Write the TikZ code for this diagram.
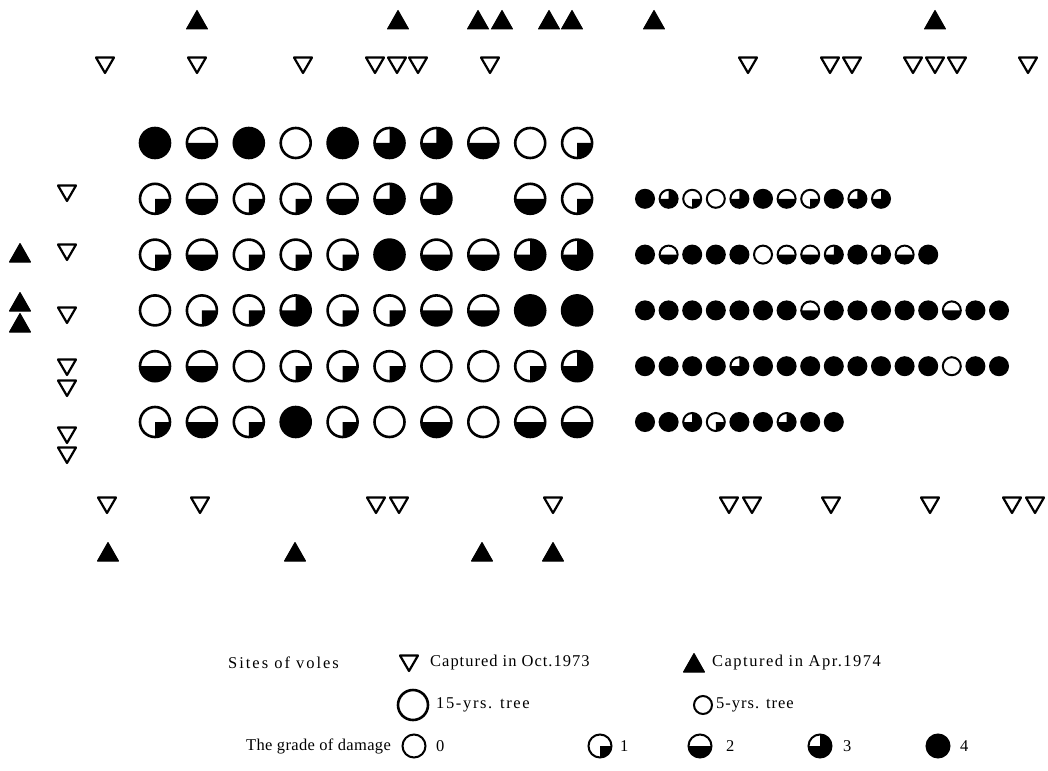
\documentclass[tikz,border=0pt]{standalone}
\usepackage{fontspec}
\setmainfont{Liberation Serif}[LetterSpace=6]
\newcommand\dmg[4]{%
  \begin{scope}[shift={(#1,#2)}]
    \ifcase#4\relax
    \or \fill (0,0) -- (#3,0) arc[start angle=0,end angle=-90,radius=#3] -- cycle;
    \or \fill (#3,0) arc[start angle=0,end angle=-180,radius=#3] -- cycle;
    \or \fill (0,0) -- (0,#3) arc[start angle=90,end angle=-180,radius=#3] -- cycle;
    \or \fill (0,0) circle[radius=#3];
    \fi
    \draw (0,0) circle[radius=#3];
  \end{scope}}
\newcommand\tdown[2]{\draw[opentri] (#1-9,#2+7.5) -- (#1+9,#2+7.5) -- (#1,#2-8) -- cycle;}
\newcommand\tup[2]{\filldraw[filltri] (#1-10.5,#2-9) -- (#1+10.5,#2-9) -- (#1,#2+9.5) -- cycle;}
\begin{document}
\begin{tikzpicture}[x=1pt,y=1pt,
  opentri/.style={line width=2.2pt,line join=round},
  filltri/.style={line width=1pt,line join=round},
  bigc/.style={line width=2.6pt},
  smallc/.style={line width=2pt},
  lbl/.style={anchor=west,inner sep=0pt,font=\fontsize{16.5}{19}\selectfont}]
\useasboundingbox (0,0) rectangle (1048,-770);
% big 15-year trees
\begin{scope}[bigc]
\foreach \row [count=\r from 0] in {{4,2,4,0,4,3,3,2,0,1},{1,2,1,1,2,3,3,9,2,1},{1,2,1,1,1,4,2,2,3,3},{0,1,1,3,1,1,2,2,4,4},{2,2,0,1,1,1,0,0,1,3},{1,2,1,4,1,0,2,0,2,2}}{
  \foreach \g [count=\c from 0] in \row {
    \pgfmathsetmacro\xx{155+46.9*\c}
    \pgfmathsetmacro\yy{-(143+55.8*\r)}
    \ifnum\g<5 \dmg{\xx}{\yy}{15}{\g}\fi
  }}
\end{scope}
% small 5-year trees
\begin{scope}[smallc]
\foreach \row [count=\r] in {{4,3,1,0,3,4,2,1,4,3,3},{4,2,4,4,4,0,2,2,3,4,3,2,4},{4,4,4,4,4,4,4,2,4,4,4,4,4,2,4,4},{4,4,4,4,3,4,4,4,4,4,4,4,4,0,4,4},{4,4,3,1,4,4,3,4,4}}{
  \foreach \g [count=\c from 0] in \row {
    \pgfmathsetmacro\xx{645+23.6*\c}
    \pgfmathsetmacro\yy{-(143+55.8*\r)}
    \dmg{\xx}{\yy}{9}{\g}
  }}
\end{scope}
% triangles
\foreach \x in {197,398,478,502,549,572,654,935} {\tup{\x}{-20}}
\foreach \x in {105,197,303,375,397,418,490,748,830,852,913,935,957,1028} {\tdown{\x}{-65}}
\foreach \y in {193,252,315,367,388,435,455} {\tdown{67}{-\y}}
\foreach \y in {253,302,323} {\tup{20}{-\y}}
\foreach \x in {107,200,376,399,553,729,752,831,930,1012,1035} {\tdown{\x}{-505}}
\foreach \x in {108,295,482,553} {\tup{\x}{-552}}
% legend
\node[lbl,font=\fontsize{16.5}{19}\selectfont\addfontfeatures{LetterSpace=12}] (sites) at (228,-663) {Sites of voles};
\tdown{409}{-663}
\node[lbl] (oct) at (430,-663) {Captured in Oct.1973};
\tup{694}{-663}
\node[lbl,font=\fontsize{16.5}{19}\selectfont\addfontfeatures{LetterSpace=9}] (apr) at (712,-663) {Captured in Apr.1974};
\begin{scope}[bigc]\dmg{413}{-705}{15}{0}\end{scope}
\node[lbl,font=\fontsize{16.5}{19}\selectfont\addfontfeatures{LetterSpace=10}] (big) at (436,-705) {15-yrs. tree};
\begin{scope}[smallc]\dmg{703}{-705}{9}{0}\end{scope}
\node[lbl] (small) at (716,-705) {5-yrs. tree};
\node[lbl,font=\fontsize{16.5}{19}\selectfont\addfontfeatures{LetterSpace=2}] (grade) at (246,-746) {The grade of damage};
\begin{scope}[smallc]
\dmg{414}{-746}{11.5}{0}
\dmg{600}{-746}{11.5}{1}
\dmg{700}{-746}{11.5}{2}
\dmg{820}{-746}{11.5}{3}
\dmg{938}{-746}{11.5}{4}
\end{scope}
\node[lbl] (g0) at (436,-746) {0};
\node[lbl] (g1) at (620,-746) {1};
\node[lbl] (g2) at (726,-746) {2};
\node[lbl] (g3) at (843,-746) {3};
\node[lbl] (g4) at (960,-746) {4};
\end{tikzpicture}
\end{document}
